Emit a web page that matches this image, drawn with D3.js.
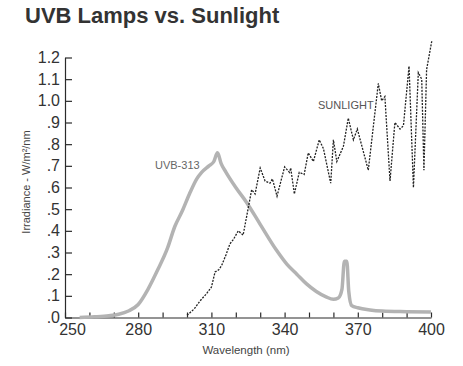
<!DOCTYPE html>
<html>
<head>
<meta charset="utf-8">
<script src="https://cdn.jsdelivr.net/npm/d3@7"></script>
<style>
  body { margin: 0; background: #fff; }
  svg { display: block; font-family: "Liberation Sans", Arial, sans-serif; }
</style>
</head>
<body>
<svg id="chart" width="463" height="366"></svg>
<script>
// UVB-313 lamp spectrum
const uvbNm  = [256, 262, 268, 272, 276, 280, 284, 288, 292, 295, 298, 301, 304, 306, 309, 311, 312.5, 314, 316, 320, 324.5, 330, 336.7, 341, 345, 349, 353, 357, 360, 362, 363.5, 364.5, 365.5, 366.3, 367.5, 370, 375, 380, 390, 400];
const uvbVal = [0, 0.003, 0.008, 0.015, 0.03, 0.06, 0.13, 0.22, 0.32, 0.42, 0.49, 0.57, 0.64, 0.67, 0.70, 0.72, 0.76, 0.71, 0.67, 0.60, 0.53, 0.43, 0.31, 0.245, 0.20, 0.155, 0.12, 0.095, 0.084, 0.09, 0.13, 0.26, 0.26, 0.12, 0.055, 0.045, 0.035, 0.03, 0.027, 0.025];

// sunlight spectrum
const sunNm  = [300, 303, 305.3, 308, 310, 311.5, 313, 314.2, 316, 317.6, 319, 321, 323, 324.5, 326.5, 327.9, 330, 332, 334, 335, 336.9, 340, 342, 342.5, 344, 346, 348, 349.7, 351.8, 354.2, 355.9, 358.9, 360, 361.4, 364.1, 366.1, 368.2, 369.8, 374.3, 378.4, 379.8, 381.1, 383.2, 385.2, 387.3, 388.7, 391, 392.8, 394.8, 396.2, 397.1, 398.2, 400.3];
const sunVal = [0.01, 0.04, 0.076, 0.11, 0.14, 0.21, 0.22, 0.24, 0.29, 0.34, 0.36, 0.40, 0.38, 0.47, 0.59, 0.57, 0.69, 0.63, 0.62, 0.64, 0.56, 0.695, 0.67, 0.69, 0.57, 0.67, 0.66, 0.76, 0.72, 0.82, 0.78, 0.62, 0.82, 0.72, 0.79, 0.92, 0.82, 0.87, 0.68, 1.08, 1.00, 1.02, 0.63, 0.90, 0.87, 0.885, 1.16, 0.60, 1.13, 1.10, 0.68, 1.145, 1.275];

const xTicks = d3.range(250, 401, 10);
const xLabels = [250, 280, 310, 340, 370, 400];
const yTicks = d3.range(0, 13).map(d => d / 10);

const svg = d3.select('#chart');

const x = d3.scaleLinear().domain([250, 400]).range([65, 431]);
const y = d3.scaleLinear().domain([0, 1.2]).range([317.5, 57.5]);

// title
svg.append('text')
    .attr('x', 25)
    .attr('y', 23)
    .attr('font-size', 22)
    .attr('font-weight', 'bold')
    .attr('fill', '#333')
    .text('UVB Lamps vs. Sunlight');

// y axis
const yAxis = svg.append('g')
    .attr('transform', 'translate(65,0)')
    .call(d3.axisLeft(y)
        .tickValues(yTicks)
        .tickSizeInner(-7)
        .tickSizeOuter(0)
        .tickPadding(5)
        .tickFormat(d => d >= 1 ? d.toFixed(1) : '.' + Math.round(d * 10)));
yAxis.selectAll('text').attr('font-size', 16).attr('fill', '#333').attr('font-family', null);

// x axis
const xAxis = svg.append('g')
    .attr('transform', 'translate(0,317.5)')
    .call(d3.axisBottom(x)
        .tickValues(xTicks)
        .tickSizeInner(-5)
        .tickSizeOuter(0)
        .tickPadding(6)
        .tickFormat(d => xLabels.includes(d) ? d : ''));
xAxis.selectAll('text').attr('font-size', 16).attr('fill', '#333').attr('font-family', null)
    .attr('dx', d => d === 250 ? 7 : 0);

svg.selectAll('.domain, .tick line').attr('stroke', '#2b2b2b').attr('stroke-width', 1.2);

// axis titles
svg.append('text')
    .attr('transform', 'translate(30,182) rotate(-90)')
    .attr('text-anchor', 'middle')
    .attr('font-size', 11)
    .attr('fill', '#444')
    .text('Irradiance - W/m²/nm');

svg.append('text')
    .attr('x', 246)
    .attr('y', 354)
    .attr('text-anchor', 'middle')
    .attr('font-size', 11.5)
    .attr('fill', '#444')
    .text('Wavelength (nm)');

// UVB lamp curve
const uvbLine = d3.line()
    .x(i => x(uvbNm[i]))
    .y(i => y(uvbVal[i]))
    .curve(d3.curveMonotoneX);

svg.append('path')
    .attr('d', uvbLine(d3.range(uvbNm.length)))
    .attr('fill', 'none')
    .attr('stroke', '#b3b3b3')
    .attr('stroke-width', 3.5)
    .attr('stroke-linejoin', 'round');

// sunlight curve
const sunLine = d3.line()
    .x(i => x(sunNm[i]))
    .y(i => y(sunVal[i]));

svg.append('path')
    .attr('d', sunLine(d3.range(sunNm.length)))
    .attr('fill', 'none')
    .attr('stroke', '#222')
    .attr('stroke-width', 1.3)
    .attr('stroke-dasharray', '2,1.3');

// labels
svg.append('text')
    .attr('x', 155)
    .attr('y', 169)
    .attr('font-size', 11)
    .attr('fill', '#666')
    .text('UVB-313');

svg.append('text')
    .attr('x', 318)
    .attr('y', 109)
    .attr('font-size', 11)
    .attr('fill', '#555')
    .text('SUNLIGHT');
</script>
</body>
</html>
